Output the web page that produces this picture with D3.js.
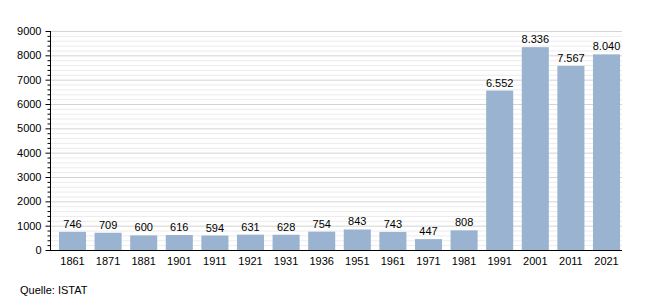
<!DOCTYPE html>
<html><head><meta charset="utf-8">
<script src="https://cdn.jsdelivr.net/npm/d3@7"></script>
<style>body{margin:0;background:#fff}svg{display:block}text{font-family:"Liberation Sans",Arial,sans-serif}</style>
</head><body>
<svg id="c" width="650" height="300"></svg>
<script>
const years = ["1861","1871","1881","1901","1911","1921","1931","1936","1951","1961","1971","1981","1991","2001","2011","2021"];
const population = [746,709,600,616,594,631,628,754,843,743,447,808,6552,8336,7567,8040];
const valueLabels = ["746","709","600","616","594","631","628","754","843","743","447","808","6.552","8.336","7.567","8.040"];
const yTicks = [0,1000,2000,3000,4000,5000,6000,7000,8000,9000];
const source = "Quelle: ISTAT";

const svg = d3.select("#c");
const x0 = 50, x1 = 622, yb = 250, yt = 31;
const x = d3.scaleBand().domain(years).range([54.7, 624.3]).paddingInner(0.24).paddingOuter(0.12);
const y = d3.scaleLinear().domain([0, 9000]).range([yb, yt]);

const minor = d3.range(0, 9001, 200);
svg.append("g").selectAll("line").data(minor).join("line")
  .attr("x1", x0).attr("x2", x1)
  .attr("y1", d => y(d) + 0.5).attr("y2", d => y(d) + 0.5)
  .attr("stroke", d => d % 1000 === 0 ? "#d4d4d4" : "#ececec").attr("stroke-width", 1);

svg.append("g").selectAll("rect").data(population).join("rect")
  .attr("x", (d, i) => x(years[i])).attr("width", x.bandwidth())
  .attr("y", d => y(d)).attr("height", d => yb - y(d))
  .attr("fill", "#99b3d0");

svg.append("g").selectAll("text").data(population).join("text")
  .attr("x", (d, i) => x(years[i]) + x.bandwidth() / 2)
  .attr("y", d => y(d) - 4)
  .attr("text-anchor", "middle").attr("font-size", 11).attr("fill", "#000")
  .text((d, i) => valueLabels[i]);

// y axis
const ya = d3.axisLeft(y).tickValues(yTicks).tickSize(5).tickPadding(4).tickFormat(d3.format("d"));
const gy = svg.append("g").attr("transform", `translate(${x0 + 0.5},0)`).call(ya);
gy.select(".domain").attr("d", `M0,${yt}V${yb}`).attr("stroke", "#000");
gy.selectAll(".tick line").attr("stroke", "#000");
gy.selectAll(".tick text").attr("font-size", 11).attr("font-family", "Liberation Sans, Arial, sans-serif").attr("fill", "#000");
gy.append("g").selectAll("line").data(minor.filter(d => d % 1000 !== 0)).join("line")
  .attr("x1", -3).attr("x2", 0).attr("y1", d => y(d) + 0.5).attr("y2", d => y(d) + 0.5).attr("stroke", "#000");

// x axis
const xa = d3.axisBottom(x).tickSize(0).tickPadding(7);
const gx = svg.append("g").attr("transform", `translate(0,${yb + 0.5})`).call(xa);
gx.select(".domain").attr("d", `M${x0},0H${x1}`).attr("stroke", "#000");
gx.selectAll(".tick text").attr("font-size", 11).attr("font-family", "Liberation Sans, Arial, sans-serif").attr("fill", "#000");

svg.append("text").attr("x", 20).attr("y", 294).attr("font-size", 11).attr("fill", "#000").text(source);
</script>
</body></html>
